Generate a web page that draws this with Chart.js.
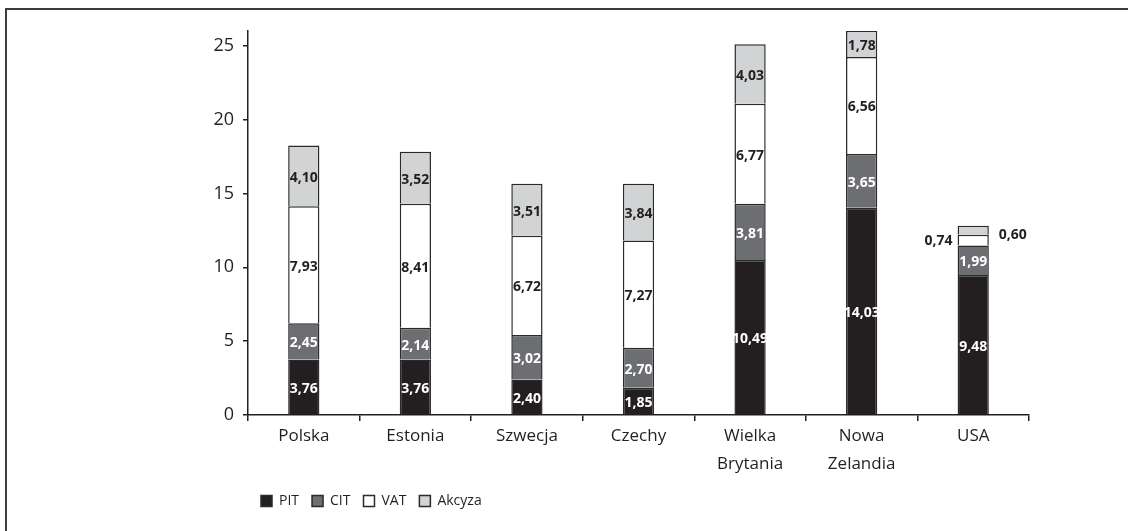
<!DOCTYPE html>
<html lang="pl">
<head>
<meta charset="utf-8">
<title>Struktura dochodów podatkowych</title>
<script src="https://cdn.jsdelivr.net/npm/chart.js@4.4.1/dist/chart.umd.min.js"></script>
<style>
  html, body { margin: 0; padding: 0; background: #fff; }
  #frame {
    position: absolute; left: 5px; top: 8px;
    width: 1200px; height: 600px;
    border-left: 2px solid #3d3d3d; border-top: 2px solid #3d3d3d;
  }
  #wrap { position: absolute; left: 0; top: 0; width: 1128px; height: 531px; }
</style>
</head>
<body>
<div id="frame"></div>
<div id="wrap"><canvas id="taxChart" width="1128" height="531"></canvas></div>
<script>
// kraje (etykiety osi X, dwuwierszowe tam gdzie trzeba)
const countries = ["Polska", "Estonia", "Szwecja", "Czechy", ["Wielka", "Brytania"], ["Nowa", "Zelandia"], "USA"];

// udział podatków w PKB, %
const pit    = [3.76, 3.76, 2.40, 1.85, 10.49, 14.03, 9.48];
const cit    = [2.45, 2.14, 3.02, 2.70, 3.81, 3.65, 1.99];
const vat    = [7.93, 8.41, 6.72, 7.27, 6.77, 6.56, 0.74];
const akcyza = [4.10, 3.52, 3.51, 3.84, 4.03, 1.78, 0.60];

const yTicks = [0, 5, 10, 15, 20, 25];

const dark = "#231f20";
Chart.defaults.font.family = "'Open Sans', sans-serif";
Chart.defaults.color = dark;

// wartości na słupkach, małe segmenty opisane obok słupka
const valueLabels = {
    id: "valueLabels",
    afterDatasetsDraw(chart) {
        const ctx = chart.ctx;
        ctx.save();
        ctx.font = "bold 14px 'Open Sans', sans-serif";
        ctx.textBaseline = "middle";
        chart.data.datasets.forEach((ds, di) => {
            const meta = chart.getDatasetMeta(di);
            meta.data.forEach((bar, i) => {
                const v = ds.data[i];
                const txt = v.toFixed(2).replace(".", ",");
                const h = Math.abs(bar.base - bar.y);
                const cy = (bar.y + bar.base) / 2;
                if (h < 16) {
                    ctx.fillStyle = dark;
                    if (di === 2) {
                        ctx.textAlign = "right";
                        ctx.fillText(txt, bar.x - bar.width / 2 - 5, cy + 1);
                    } else {
                        ctx.textAlign = "left";
                        ctx.fillText(txt, bar.x + bar.width / 2 + 10, cy + 5);
                    }
                } else {
                    ctx.fillStyle = ds.labelColor;
                    ctx.textAlign = "center";
                    ctx.fillText(txt, bar.x, cy + 2);
                }
            });
        });
        ctx.restore();
    }
};

function series(label, data, fill, labelColor) {
    return {
        label: label,
        data: data,
        backgroundColor: fill,
        borderColor: "#2a2a2a",
        borderWidth: 1.5,
        borderSkipped: "start",
        labelColor: labelColor
    };
}

new Chart(document.getElementById("taxChart"), {
    type: "bar",
    data: {
        labels: countries,
        datasets: [
            series("PIT", pit, "#231f20", "#ffffff"),
            series("CIT", cit, "#6d6e71", "#ffffff"),
            series("VAT", vat, "#ffffff", dark),
            series("Akcyza", akcyza, "#d1d3d4", dark)
        ]
    },
    options: {
        responsive: false,
        animation: false,
        layout: { padding: { left: 188, right: 99, top: 31, bottom: 13 } },
        datasets: { bar: { categoryPercentage: 1, barPercentage: 0.28 } },
        plugins: {
            tooltip: { enabled: false },
            legend: {
                position: "bottom",
                align: "start",
                fullSize: false,
                labels: {
                    boxWidth: 11,
                    boxHeight: 11,
                    padding: 13,
                    color: dark,
                    font: { size: 14 }
                }
            }
        },
        scales: {
            x: {
                stacked: true,
                grid: { display: true, drawOnChartArea: false, drawTicks: true, tickLength: 6, color: dark, lineWidth: 1.5 },
                border: { display: true, color: dark, width: 1.5 },
                ticks: { font: { size: 17, lineHeight: 1.6 }, padding: 2, color: dark, maxRotation: 0 },
                afterFit: s => { s.height = 66; }
            },
            y: {
                stacked: true,
                min: 0,
                max: 26,
                grid: { display: true, drawOnChartArea: false, drawTicks: true, tickLength: 5, color: dark, lineWidth: 1.5 },
                border: { display: true, color: dark, width: 1.5 },
                ticks: { stepSize: 5, font: { size: 18 }, padding: 9, color: dark },
                afterBuildTicks: s => { s.ticks = yTicks.map(v => ({ value: v })); },
                afterFit: s => { s.width = 60; }
            }
        }
    },
    plugins: [valueLabels]
});
</script>
</body>
</html>
